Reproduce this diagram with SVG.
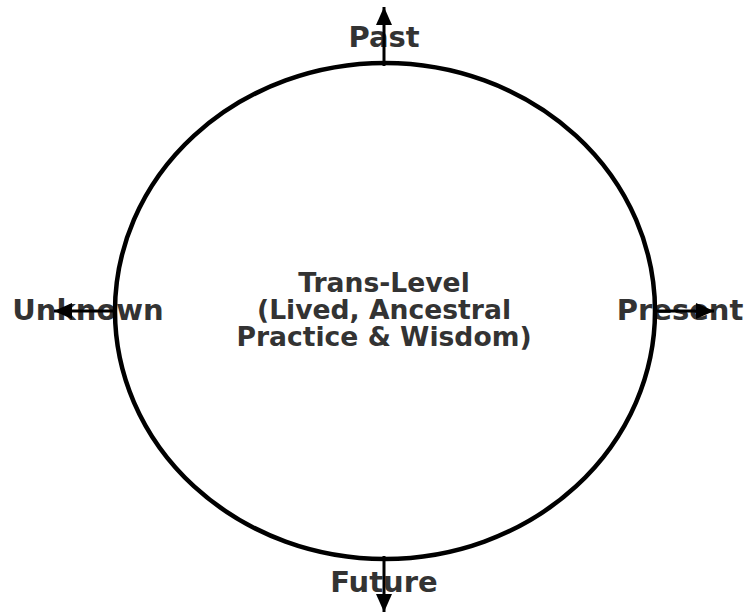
<svg xmlns="http://www.w3.org/2000/svg" width="745" height="613" viewBox="0 0 745 613">
<style>
.t{font-family:"DejaVu Sans",sans-serif;font-weight:bold;fill:#333333;text-anchor:middle}
.big{font-size:29px}
.mid{font-size:26.6px}
.ln{stroke:#000;stroke-width:3;fill:none}
</style>
<defs>
<marker id="ah2" viewBox="0 0 18 16" refX="18" refY="8" markerWidth="18" markerHeight="16" markerUnits="userSpaceOnUse" orient="auto">
<path d="M0,0 L18,8 L0,16 z" fill="#000"/>
</marker>
</defs>
<rect width="745" height="613" fill="#fff"/>
<g id="labels">
<text class="t big" x="384" y="47">Past</text>
<text class="t big" x="88" y="320">Unknown</text>
<text class="t big" x="680" y="320">Present</text>
<text class="t big" x="384" y="592">Future</text>
</g>
<g id="center">
<text class="t mid" x="384" y="292">Trans-Level</text>
<text class="t mid" x="384" y="319">(Lived, Ancestral</text>
<text class="t mid" x="384" y="346">Practice &amp; Wisdom)</text>
</g>
<g id="circle">
<ellipse cx="385" cy="311" rx="270" ry="248" stroke="#000" stroke-width="4.5" fill="none"/>
</g>
<g id="connectors">
<line class="ln" x1="384" y1="66" x2="384" y2="7" marker-end="url(#ah2)"/>
<line class="ln" x1="384" y1="556" x2="384" y2="612" marker-end="url(#ah2)"/>
<line class="ln" x1="115" y1="311" x2="54" y2="311" marker-end="url(#ah2)"/>
<line class="ln" x1="655" y1="311" x2="714" y2="311" marker-end="url(#ah2)"/>
</g>
</svg>
